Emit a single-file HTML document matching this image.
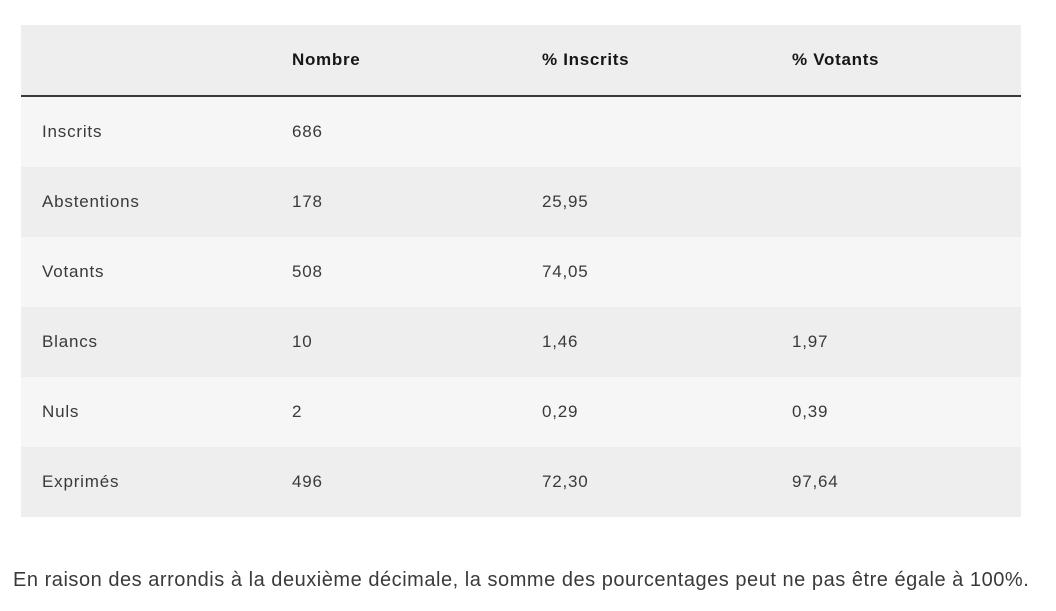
<!DOCTYPE html>
<html>
<head>
<meta charset="utf-8">
<style>
  html, body { margin: 0; padding: 0; background: #ffffff; }
  body { width: 1056px; height: 611px; position: relative; overflow: hidden;
         font-family: "Liberation Sans", sans-serif; }
  table { position: absolute; left: 21px; top: 25px; width: 1000px;
          border-collapse: collapse; table-layout: fixed; }
  col { width: 250px; }
  th, td { padding: 0 0 0 21px; text-align: left; height: 70px; vertical-align: middle;
           font-size: 17px; letter-spacing: 0.8px; }
  thead tr { background: #eeeeee; border-bottom: 2px solid #3a3a3a; }
  th { font-weight: bold; color: #161616; letter-spacing: 0.7px; }
  td { color: #3a3a3a; }
  tbody tr:nth-child(odd) { background: #f6f6f6; }
  tbody tr:nth-child(even) { background: #eeeeee; }
  .note { position: absolute; left: 13px; top: 569px; font-size: 20px; color: #3a3a3a;
          white-space: nowrap; letter-spacing: 0.53px; }
</style>
</head>
<body>
<table>
  <colgroup><col><col><col><col></colgroup>
  <thead>
    <tr><th></th><th>Nombre</th><th>% Inscrits</th><th>% Votants</th></tr>
  </thead>
  <tbody>
    <tr><td>Inscrits</td><td>686</td><td></td><td></td></tr>
    <tr><td>Abstentions</td><td>178</td><td>25,95</td><td></td></tr>
    <tr><td>Votants</td><td>508</td><td>74,05</td><td></td></tr>
    <tr><td>Blancs</td><td>10</td><td>1,46</td><td>1,97</td></tr>
    <tr><td>Nuls</td><td>2</td><td>0,29</td><td>0,39</td></tr>
    <tr><td>Exprimés</td><td>496</td><td>72,30</td><td>97,64</td></tr>
  </tbody>
</table>
<div class="note">En raison des arrondis à la deuxième décimale, la somme des pourcentages peut ne pas être égale à 100%.</div>
</body>
</html>
